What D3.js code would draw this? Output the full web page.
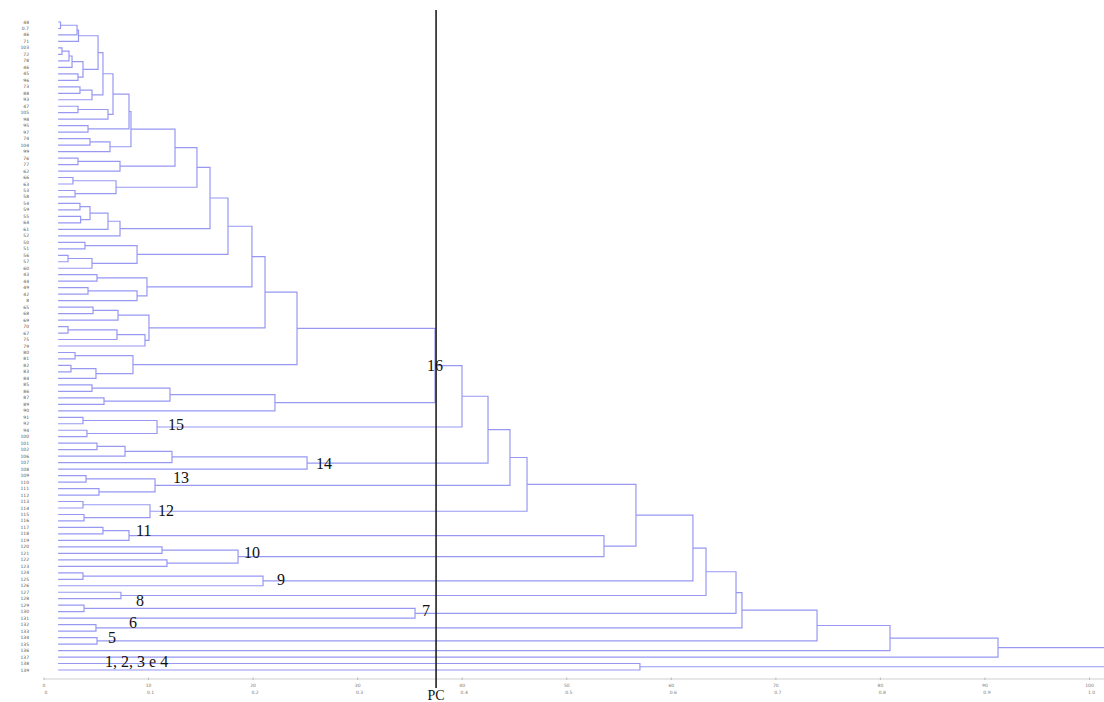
<!DOCTYPE html>
<html>
<head>
<meta charset="utf-8">
<script src="https://cdn.jsdelivr.net/npm/d3@7"></script>
<style>
  body { margin: 0; background: #fff; }
  svg { display: block; }
</style>
</head>
<body>
<svg id="chart" width="1104" height="702"></svg>
<script>
// leaf labels, top to bottom (tiny, hardly legible in the source)
const leafLabels = [
  "48","0.7","46","71","103","72","78","46","45","96",
  "73","88","93","47","105","98","95","97","74","104",
  "99","76","77","62","66","63","53","58","54","59",
  "55","64","61","52","50","51","56","57","60","43",
  "44","49","42","8","65","68","69","70","67","75",
  "79","80","81","82","83","84","85","86","87","89",
  "90","91","92","94","100","101","102","106","107","108",
  "109","110","111","112","113","114","115","116","117","118",
  "119","120","121","122","123","124","125","126","127","128",
  "129","130","131","132","133","134","135","136","137","138",
  "139"
]

// merges: [name, child A, child B, height]; numbers are leaves
const merges = [
  ["t01", 0, 1, 1.58], ["t012", "t01", 2, 3.16], ["t0123", "t012", 3, 3.3],
  ["t45", 4, 5, 1.72], ["t456", "t45", 6, 2.39], ["t4567", "t456", 7, 2.68],
  ["t89", 8, 9, 3.25], ["t4_9", "t4567", "t89", 3.73], ["t0_9", "t0123", "t4_9", 5.17],
  ["t1011", 10, 11, 3.44], ["t10_12", "t1011", 12, 4.59], ["t0_12", "t0_9", "t10_12", 5.64],
  ["t1314", 13, 14, 3.25], ["t13_15", "t1314", 15, 6.12], ["t0_15", "t0_12", "t13_15", 6.6],
  ["p1617", 16, 17, 4.21], ["t0_17", "t0_15", "p1617", 8.13],
  ["p1819", 18, 19, 4.4], ["g18_20", "p1819", 20, 6.31], ["n130", "t0_17", "g18_20", 8.32],
  ["p2122", 21, 22, 3.25], ["gH", "p2122", 23, 7.27], ["n175", "n130", "gH", 12.53],
  ["p2425", 24, 25, 2.77], ["p2627", 26, 27, 2.97], ["gG", "p2425", "p2627", 6.89],
  ["n197", "n175", "gG", 14.63],
  ["p2829", 28, 29, 3.44], ["p3031", 30, 31, 3.5], ["f28_31", "p2829", "p3031", 4.4],
  ["f28_32", "f28_31", 32, 6.12], ["gF", "f28_32", 33, 7.27], ["n210", "n197", "gF", 15.88],
  ["p3435", 34, 35, 3.92], ["p3637", 36, 37, 2.3], ["e36_38", "p3637", 38, 4.59],
  ["gE", "p3435", "e36_38", 8.9], ["n228", "n210", "gE", 17.6],
  ["p3940", 39, 40, 5.07], ["p4142", 41, 42, 4.21], ["d41_43", "p4142", 43, 8.9],
  ["gD", "p3940", "d41_43", 9.85], ["n252", "n228", "gD", 19.89],
  ["p4445", 44, 45, 4.69], ["c44_46", "p4445", 46, 7.08], ["p4748", 47, 48, 2.3],
  ["c47_49", "p4748", 49, 6.98], ["c47_50", "c47_49", 50, 9.66],
  ["gC", "c44_46", "c47_50", 10.04], ["n265", "n252", "gC", 21.14],
  ["p5152", 51, 52, 2.97], ["p5354", 53, 54, 2.58], ["a53_55", "p5354", 55, 4.97],
  ["gA", "p5152", "a53_55", 8.51], ["n297", "n265", "gA", 24.2],
  ["p5657", 56, 57, 4.59], ["p5859", 58, 59, 5.74], ["b56_59", "p5657", "p5859", 12.05],
  ["gB", "b56_59", 60, 22.09], ["c16", "n297", "gB", 37.4],
  ["p6162", 61, 62, 3.73], ["p6364", 63, 64, 4.11], ["c15", "p6162", "p6364", 10.81],
  ["n462", "c16", "c15", 39.98],
  ["p6566", 65, 66, 5.07], ["k65_67", "p6566", 67, 7.75], ["k65_68", "k65_67", 68, 12.24],
  ["c14", "k65_68", 69, 25.16], ["n488", "n462", "c14", 42.47],
  ["p7071", 70, 71, 4.02], ["p7273", 72, 73, 5.26], ["c13", "p7071", "p7273", 10.62],
  ["n510", "n488", "c13", 44.57],
  ["p7475", 74, 75, 3.73], ["p7677", 76, 77, 3.83], ["c12", "p7475", "p7677", 10.14],
  ["n527", "n510", "c12", 46.2],
  ["p7879", 78, 79, 5.64], ["c11", "p7879", 80, 8.13],
  ["p8182", 81, 82, 11.29], ["p8384", 83, 84, 11.76], ["c10", "p8182", "p8384", 18.56],
  ["n604", "c11", "c10", 53.56], ["n636", "n527", "n604", 56.62],
  ["p8586", 85, 86, 3.73], ["c9", "p8586", 87, 20.95], ["n693", "n636", "c9", 62.07],
  ["c8", 88, 89, 7.36], ["n706", "n693", "c8", 63.32],
  ["p9091", 90, 91, 3.83], ["c7", "p9091", 92, 35.49], ["n736", "n706", "c7", 66.19],
  ["c6", 93, 94, 4.97], ["n742", "n736", "c6", 66.76],
  ["c5", 95, 96, 5.07], ["n817", "n742", "c5", 73.94],
  ["n890", "n817", 97, 80.92], ["n998", "n890", 98, 91.25],
  ["p99100", 99, 100, 57.0], ["root", "n998", "p99100", 101.5]
]

// numbered groups cut by the PC line
const clusterNames = ["16", "15", "14", "13", "12", "11", "10", "9", "8", "7", "6", "5", "1, 2, 3 e 4"]
const clusterNodes = ["c16", "c15", "c14", "c13", "c12", "c11", "c10", "c9", "c8", "c7", "c6", "c5", 98]

// axis
const tickValues = [0, 10, 20, 30, 40, 50, 60, 70, 80, 90, 100]
const tickTop = ["0", "10", "20", "30", "40", "50", "60", "70", "80", "90", "100"]
const tickBottom = ["0", "0.1", "0.2", "0.3", "0.4", "0.5", "0.6", "0.7", "0.8", "0.9", "1.0"]
const pcCut = 37.5
const leafH = 1.35

const svg = d3.select('#chart')

const x = d3.scaleLinear().domain([0, 100]).range([44, 1089.5])
const y = d3.scalePoint().domain(d3.range(leafLabels.length)).range([22, 670])

// node positions
const nodes = {}
leafLabels.forEach((d, i) => { nodes[i] = { h: leafH, y: y(i) } })

const links = []
merges.forEach(m => {
  const a = nodes[m[1]], b = nodes[m[2]]
  nodes[m[0]] = { h: m[3], y: (a.y + b.y) / 2 }
  links.push({ a, b, h: m[3] })
})

const lineColor = '#9898f3'

svg.append('g')
  .selectAll('path')
  .data(links)
  .enter().append('path')
    .attr('d', d => `M${x(d.a.h)},${d.a.y}H${x(d.h)}V${d.b.y}H${x(d.b.h)}`)
    .attr('fill', 'none')
    .attr('stroke', lineColor)
    .attr('stroke-width', 1.2)

// leaf labels
svg.append('g')
  .selectAll('text')
  .data(leafLabels)
  .enter().append('text')
    .attr('x', 29)
    .attr('y', (d, i) => y(i) + 1.5)
    .attr('text-anchor', 'end')
    .style('font-family', 'DejaVu Sans, sans-serif')
    .style('font-size', '4.5px')
    .style('fill', '#555')
    .text(d => d)

// bottom axis
const axisY = 679
svg.append('line')
  .attr('x1', x(0)).attr('x2', 1104)
  .attr('y1', axisY).attr('y2', axisY)
  .attr('stroke', '#cfcfcf')
svg.append('g')
  .selectAll('line')
  .data(tickValues)
  .enter().append('line')
    .attr('x1', d => x(d)).attr('x2', d => x(d))
    .attr('y1', axisY - 1.5).attr('y2', axisY + 1)
    .attr('stroke', '#bbb')
const tl = svg.append('g')
  .selectAll('g')
  .data(tickValues)
  .enter().append('g')
tl.append('text')
  .attr('x', d => x(d)).attr('y', 687)
  .attr('text-anchor', 'middle')
  .style('font-family', 'DejaVu Sans, sans-serif')
  .style('font-size', '4.5px').style('fill', '#777')
  .text((d, i) => tickTop[i])
tl.append('text')
  .attr('x', d => x(d) + 2).attr('y', 694)
  .attr('text-anchor', 'middle')
  .style('font-family', 'DejaVu Sans, sans-serif')
  .style('font-size', '4.5px').style('fill', '#777')
  .text((d, i) => tickBottom[i])

// PC cut line
svg.append('line')
  .attr('x1', x(pcCut)).attr('x2', x(pcCut))
  .attr('y1', 10).attr('y2', 688)
  .attr('stroke', '#111')
  .attr('stroke-width', 1.5)
svg.append('text')
  .attr('x', x(pcCut)).attr('y', 700)
  .attr('text-anchor', 'middle')
  .style('font-family', 'Liberation Serif, serif')
  .style('font-size', '14px')
  .style('fill', '#111')
  .text('PC')

// cluster numbers, nudged off their node
const nudge = [[0, 0], [11, -3], [9, 0], [18, -8], [8, -1], [7, -5], [6, -4],
  [14, -2], [15, 5], [7, -3], [33, -5], [11, -3], [47, 4]]
svg.append('g')
  .selectAll('text')
  .data(clusterNames)
  .enter().append('text')
    .attr('x', (d, i) => x(nodes[clusterNodes[i]].h) + nudge[i][0])
    .attr('y', (d, i) => nodes[clusterNodes[i]].y + nudge[i][1])
    .attr('dy', '0.35em')
    .attr('text-anchor', (d, i) => i === 0 ? 'middle' : 'start')
    .style('font-family', 'Liberation Serif, serif')
    .style('font-size', '16px')
    .style('fill', '#111')
    .text(d => d)
</script>
</body>
</html>
